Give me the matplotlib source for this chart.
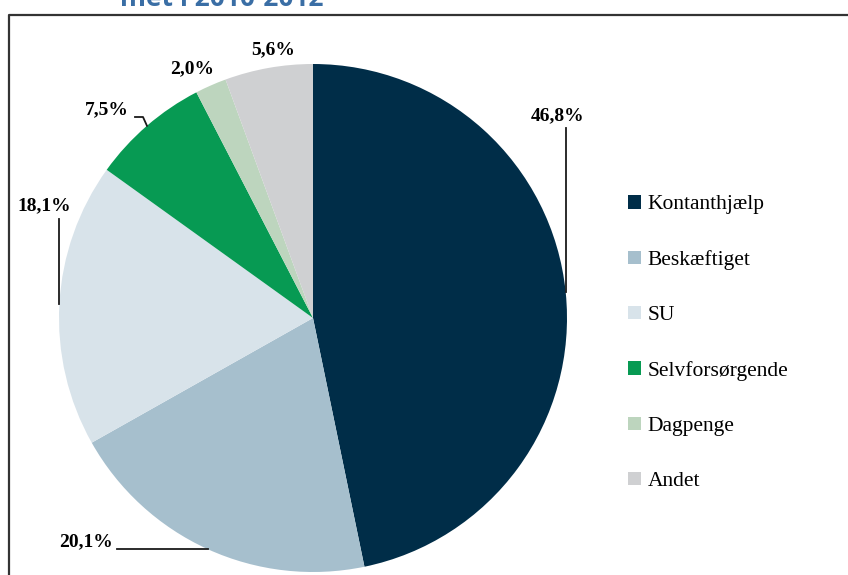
import matplotlib.pyplot as plt
import numpy as np

# data
kategorier = ['Kontanthjælp', 'Beskæftiget', 'SU', 'Selvforsørgende', 'Dagpenge', 'Andet']
andele = [46.8, 20.1, 18.1, 7.5, 2.0, 5.6]
etiketter = ['46,8%', '20,1%', '18,1%', '7,5%', '2,0%', '5,6%']
farver = ['#002d48', '#a6bfcd', '#d8e3ea', '#079a53', '#bdd5be', '#cfd0d2']

W, H = 848, 575
fig = plt.figure(figsize=(W / 100, H / 100), dpi=100)
ax = fig.add_axes([0, 0, 1, 1])

cx, cy, r = 313, H - 318, 254
wedges, _ = ax.pie(andele, colors=farver, startangle=90, counterclock=False,
                   center=(cx, cy), radius=r, wedgeprops=dict(linewidth=0))
ax.set_xlim(0, W)
ax.set_ylim(0, H)
ax.set_aspect('auto')
ax.axis('off')

def kant(w):
    # punkt paa kanten midt i kagestykket
    m = np.deg2rad((w.theta1 + w.theta2) / 2)
    return cx + r * np.cos(m), cy + r * np.sin(m)

skrift = dict(family=['Liberation Serif', 'DejaVu Serif'], fontsize=14, fontweight='bold')
lin = dict(color='#1a1a1a', lw=1.3)

# 46,8%
x0, y0 = kant(wedges[0])
ax.text(558, H - 116, etiketter[0], ha='center', va='center', **skrift)
ax.plot([x0, x0], [y0, H - 128], **lin)
# 20,1%
x0, y0 = kant(wedges[1])
ax.text(113, H - 542, etiketter[1], ha='right', va='center', **skrift)
ax.plot([117, x0], [y0, y0], **lin)
# 18,1%
x0, y0 = kant(wedges[2])
ax.text(44, H - 206, etiketter[2], ha='center', va='center', **skrift)
ax.plot([x0, x0], [y0, H - 219], **lin)
# 7,5%
x0, y0 = kant(wedges[3])
ax.text(107, H - 110, etiketter[3], ha='center', va='center', **skrift)
ax.plot([135, 143, x0], [H - 117, H - 117, y0], **lin)
# 2,0% og 5,6%
ax.text(192, H - 69, etiketter[4], ha='center', va='center', **skrift)
ax.text(273, H - 50, etiketter[5], ha='center', va='center', **skrift)

# ramme
ax.plot([9, 9, W + 5], [-5, H - 15, H - 15], color='#333333', lw=1.6, solid_capstyle='butt')

# titel (afskaaret)
ax.text(120, H - 6, 'met i 2010-2012', ha='left', va='baseline', color='#3a6ea5',
        fontsize=19, fontweight='bold', family='Open Sans', clip_on=False)

leg = ax.legend(wedges, kategorier, loc='upper left',
                bbox_to_anchor=(628 / W, 1 - 195 / H), frameon=False,
                prop=dict(family=['Liberation Serif', 'DejaVu Serif'], size=15.5),
                handlelength=0.6, handleheight=0.6, handletextpad=0.3,
                labelspacing=1.66, borderpad=0, borderaxespad=0)

fig.savefig('out.png', dpi=100)
